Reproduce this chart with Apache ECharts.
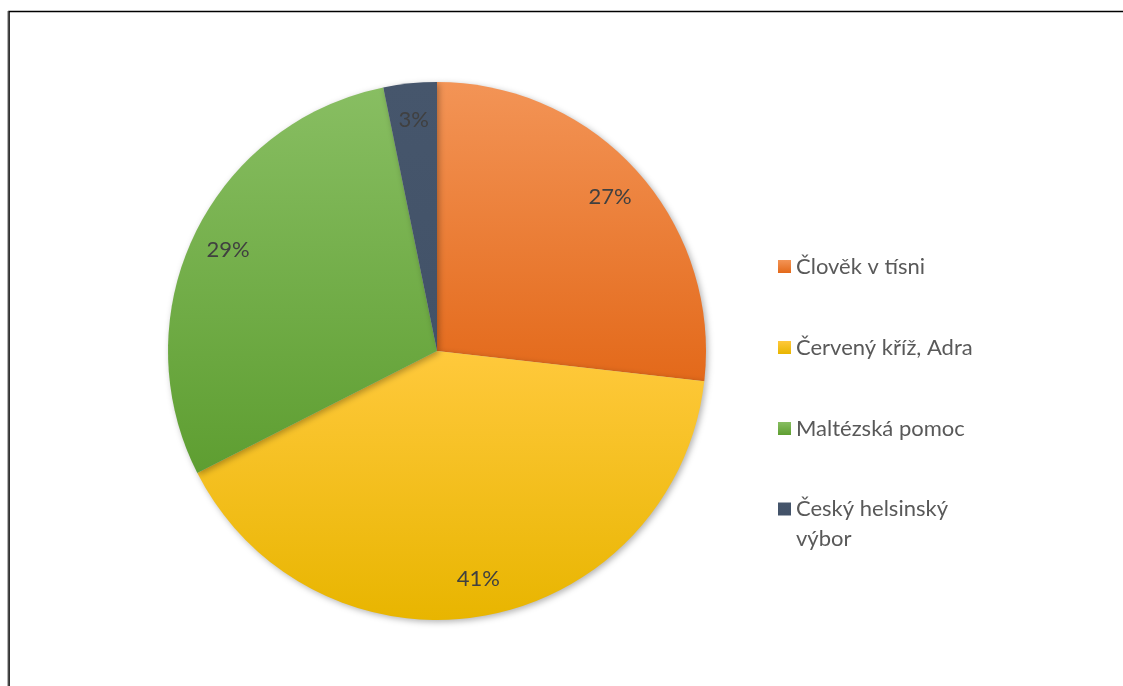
<!DOCTYPE html>
<html>
<head>
<meta charset="utf-8">
<script src="https://cdn.jsdelivr.net/npm/echarts@6/dist/echarts.min.js"></script>
<style>
  html, body { margin: 0; padding: 0; background: #fff; }
  #chart { width: 1123px; height: 686px; }
</style>
</head>
<body>
<div id="chart"></div>
<script>
const categories = ['Člověk v tísni', 'Červený kříž, Adra', 'Maltézská pomoc', 'Český helsinský výbor'];
const values = [26.8, 40.7, 29.3, 3.2];
const legendLabels = ['Člověk v tísni', 'Červený kříž, Adra', 'Maltézská pomoc', '\nČeský helsinský\nvýbor'];
const gradients = [
  ['#F39456', '#E3691A'],
  ['#FFC93C', '#E8B500'],
  ['#88BE62', '#5E9E31'],
  ['#46566C', '#425268']
];
const legendColors = ['#EA7433', '#FFC000', '#6DAB45', '#44546A'];

const FONT = 'Lato, "Noto Sans", sans-serif';

function grad(c) {
  return { type: 'linear', x: 0, y: 0, x2: 0, y2: 1,
    colorStops: [{ offset: 0, color: c[0] }, { offset: 1, color: c[1] }] };
}

const pieData = categories.map((name, i) => ({
  name, value: values[i],
  itemStyle: { color: grad(gradients[i]) }
}));
const labelData = categories.map((name, i) => ({ name, value: values[i] }));

const chart = echarts.init(document.getElementById('chart'), null, { renderer: 'canvas' });
chart.setOption({
  backgroundColor: '#fff',
  animation: false,
  color: legendColors,
  graphic: [
    { type: 'polyline', silent: true, shape: { points: [[9, 700], [9, 11.5], [1130, 11.5]] },
      style: { stroke: '#000', lineWidth: 1.6, fill: null } },
    { type: 'line', silent: true, shape: { x1: 8, y1: 11, x2: 8, y2: 700 },
      style: { stroke: '#666', lineWidth: 1 } }
  ],
  legend: [
    {
      orient: 'vertical', left: 773, top: 245,
      itemWidth: 13, itemHeight: 13, itemGap: 48,
      icon: 'rect',
      data: categories.slice(0, 3).map((n) => ({ name: n })),
      formatter: (name) => legendLabels[categories.indexOf(name)],
      textStyle: { fontFamily: FONT, fontSize: 22, color: '#595959', lineHeight: 33 }
    },
    {
      orient: 'vertical', left: 773, top: 459,
      itemWidth: 13, itemHeight: 13,
      icon: 'rect',
      data: [{ name: categories[3] }],
      formatter: (name) => legendLabels[categories.indexOf(name)],
      textStyle: { fontFamily: FONT, fontSize: 22, color: '#595959', lineHeight: 30 }
    }
  ],
  series: [
    {
      type: 'pie',
      center: [437, 351],
      radius: 269,
      startAngle: 90,
      clockwise: true,
      silent: true,
      label: { show: false },
      labelLine: { show: false },
      itemStyle: { borderWidth: 0, shadowBlur: 6, shadowColor: 'rgba(0,0,0,0.3)', shadowOffsetX: 2, shadowOffsetY: 2 },
      data: pieData
    },
    {
      type: 'pie',
      center: [437, 351],
      radius: [196, 262],
      startAngle: 90,
      clockwise: true,
      silent: true,
      legendHoverLink: false,
      itemStyle: { color: 'rgba(0,0,0,0)' },
      label: {
        show: true, position: 'inside',
        fontFamily: FONT, fontSize: 22, color: '#404040',
        formatter: (p) => Math.round(p.percent) + '%'
      },
      labelLine: { show: false },
      data: labelData
    }
  ]
});
</script>
</body>
</html>
